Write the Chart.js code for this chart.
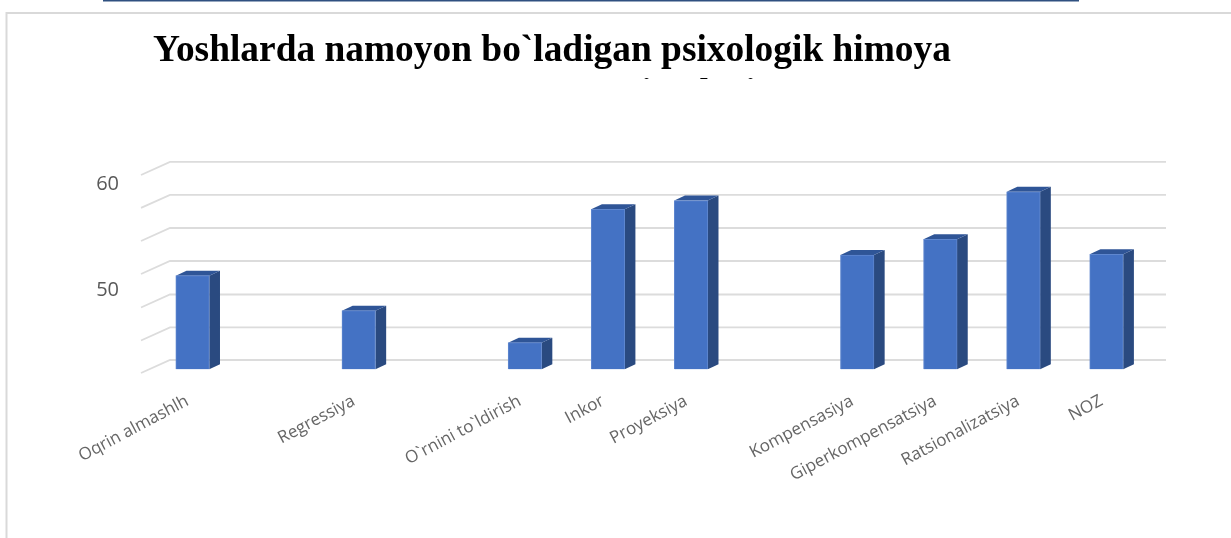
<!DOCTYPE html>
<html>
<head>
<meta charset="utf-8">
<style>
html,body{margin:0;padding:0;background:#fff;width:1231px;height:538px;overflow:hidden}
#wrap{position:relative;width:1231px;height:538px}
canvas{position:absolute;left:0;top:0}
</style>
<script src="https://cdn.jsdelivr.net/npm/chart.js@4"></script>
</head>
<body>
<div id="wrap"><canvas id="c" width="1231" height="538"></canvas></div>
<script>
const titleLines = ["Yoshlarda namoyon bo`ladigan psixologik himoya", "                    mexanizmlari"];
const categories = ["Oqrin almashlh","","Regressiya","","O`rnini to`ldirish","Inkor","Proyeksiya","","Kompensasiya","Giperkompensatsiya","Ratsionalizatsiya","NOZ"];
const values = [51.35,null,48.05,null,45.03,57.61,58.43,null,53.3,54.78,59.27,53.37];
const tickLabels = [50,60];
const gridValues = [42.17,45.24,48.35,51.51,54.62,57.74,60.85];
const axisMin = 42.17, axisMax = 60.85, barBase = 42.52;

const FRONT="#4472c4", SIDE="#2a4a80", TOP="#2f5597", GRID="#dcdcdc", FRAME="#d9d9d9", RULE="#2f5080";

const deco = {
  id:"deco",
  afterLayout(chart){ chart.titleBlock.right = 1104; },
  beforeDatasetsDraw(chart){
    const ctx=chart.ctx, a=chart.chartArea, y=chart.scales.y;
    ctx.save();
    // hide lower part of the cut-off second title line
    ctx.fillStyle="#fff"; ctx.fillRect(0,79,1231,60);
    // page furniture
    ctx.fillStyle=RULE; ctx.fillRect(103,0,976,1.5);
    ctx.strokeStyle=FRAME; ctx.lineWidth=2;
    ctx.beginPath(); ctx.moveTo(6.5,538); ctx.lineTo(6.5,13); ctx.lineTo(1231,13); ctx.stroke();
    // 3D wall and floor grid
    ctx.strokeStyle=GRID; ctx.lineWidth=1.8;
    gridValues.forEach(v=>{
      const p=y.getPixelForValue(v);
      ctx.beginPath(); ctx.moveTo(a.left-10,p); ctx.lineTo(a.left+19,p-13); ctx.lineTo(a.right+18,p-13); ctx.stroke();
    });
    // bar extrusion
    const dx=10.7, dy=5;
    chart.getDatasetMeta(0).data.forEach((b,i)=>{
      if(values[i]==null) return;
      const l=b.x-b.width/2, r=b.x+b.width/2, t=b.y, bt=b.base;
      ctx.fillStyle=SIDE;
      ctx.beginPath(); ctx.moveTo(r,t); ctx.lineTo(r+dx,t-dy); ctx.lineTo(r+dx,bt-dy); ctx.lineTo(r,bt); ctx.closePath(); ctx.fill();
      ctx.fillStyle=TOP;
      ctx.beginPath(); ctx.moveTo(l,t); ctx.lineTo(l+dx,t-dy); ctx.lineTo(r+dx,t-dy); ctx.lineTo(r,t); ctx.closePath(); ctx.fill();
    });
    ctx.restore();
  }
};

new Chart(document.getElementById("c"),{
  type:"bar",
  plugins:[deco],
  data:{labels:categories,datasets:[{data:values,base:barBase,backgroundColor:FRONT,borderColor:"#5f87cf",borderWidth:1,barThickness:33.5}]},
  options:{
    responsive:false,animation:false,
    layout:{padding:{left:0,right:83,top:0,bottom:0}},
    plugins:{
      legend:{display:false},tooltip:{enabled:false},
      title:{display:true,text:titleLines,color:"#000",align:"center",
        font:{family:"'Liberation Serif'",size:37.4,weight:"bold",lineHeight:1.176},
        padding:{top:29,bottom:58}}
    },
    scales:{
      x:{
        offset:true,
        grid:{display:false},border:{display:false},
        ticks:{autoSkip:false,minRotation:28,maxRotation:28,padding:10,labelOffset:-5,color:"#666666",font:{family:"'Open Sans'",size:17}},
        afterFit(s){s.height=165;}
      },
      y:{
        min:axisMin,max:axisMax,
        grid:{display:false},border:{display:false},
        afterBuildTicks(s){s.ticks=tickLabels.map(v=>({value:v}));},
        afterFit(s){s.width=151;},
        ticks:{padding:24,color:"#595959",font:{family:"'Open Sans'",size:20}}
      }
    }
  }
});
</script>
</body>
</html>
